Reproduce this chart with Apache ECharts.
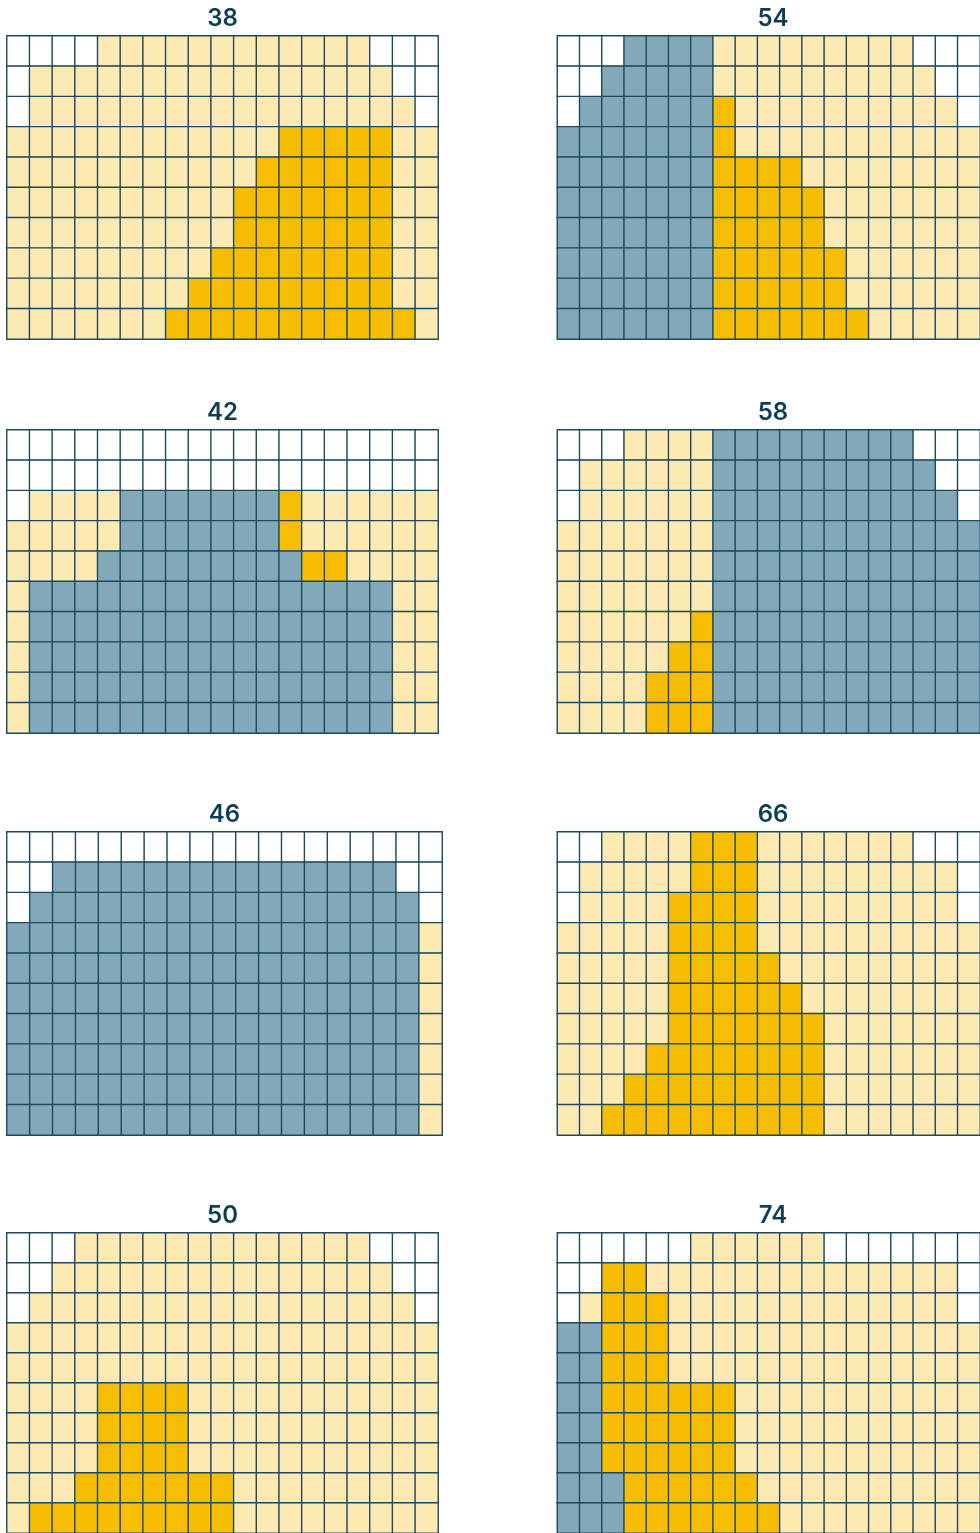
<!DOCTYPE html>
<html>
<head>
<meta charset="utf-8">
<script src="https://cdn.jsdelivr.net/npm/echarts@6/dist/echarts.min.js"></script>
<style>
  html, body { margin: 0; padding: 0; background: #fff; }
  #chart { width: 980px; height: 1533px; }
</style>
</head>
<body>
<div id="chart"></div>
<script>
// cell codes: 0 = empty, 1 = light, 2 = gold, 3 = blue
const panelTitles = ["38", "42", "46", "50", "54", "58", "66", "74"];
const columns = Array.from({ length: 19 }, (_, i) => String(i));
const rows = Array.from({ length: 10 }, (_, i) => String(i));

const panel38 = [
  "0000111111111111000",
  "0111111111111111100",
  "0111111111111111110",
  "1111111111112222211",
  "1111111111122222211",
  "1111111111222222211",
  "1111111111222222211",
  "1111111112222222211",
  "1111111122222222211",
  "1111111222222222221"
];
const panel42 = [
  "0000000000000000000",
  "0000000000000000000",
  "0111133333332111111",
  "1111133333332111111",
  "1111333333333221111",
  "1333333333333333311",
  "1333333333333333311",
  "1333333333333333311",
  "1333333333333333311",
  "1333333333333333311"
];
const panel46 = [
  "0000000000000000000",
  "0033333333333333300",
  "0333333333333333330",
  "3333333333333333331",
  "3333333333333333331",
  "3333333333333333331",
  "3333333333333333331",
  "3333333333333333331",
  "3333333333333333331",
  "3333333333333333331"
];
const panel50 = [
  "0001111111111111000",
  "0011111111111111100",
  "0111111111111111110",
  "1111111111111111111",
  "1111111111111111111",
  "1111222211111111111",
  "1111222211111111111",
  "1111222211111111111",
  "1112222222111111111",
  "1222222222111111111"
];
const panel54 = [
  "0003333111111111000",
  "0033333111111111100",
  "0333333211111111110",
  "3333333211111111111",
  "3333333222211111111",
  "3333333222221111111",
  "3333333222221111111",
  "3333333222222111111",
  "3333333222222111111",
  "3333333222222211111"
];
const panel58 = [
  "0001111333333333000",
  "0111111333333333300",
  "0111111333333333330",
  "1111111333333333333",
  "1111111333333333333",
  "1111111333333333333",
  "1111112333333333333",
  "1111122333333333333",
  "1111222333333333333",
  "1111222333333333333"
];
const panel66 = [
  "0011112221111111000",
  "0111112221111111110",
  "0111122221111111110",
  "1111122221111111111",
  "1111122222111111111",
  "1111122222211111111",
  "1111122222221111111",
  "1111222222221111111",
  "1112222222221111111",
  "1122222222221111111"
];
const panel74 = [
  "0000001111110000000",
  "0022111111111111110",
  "0122211111111111110",
  "3322211111111111111",
  "3322211111111111111",
  "3322222211111111111",
  "3322222211111111111",
  "3322222211111111111",
  "3332222221111111111",
  "3332222222111111111"
];
const panels = [panel38, panel42, panel46, panel50, panel54, panel58, panel66, panel74];

// panel placement (left column then right column)
const gridTops = [36, 430, 832, 1233];
const gridHeight = 303;
const leftX = [7, 557.5];
const gridWidths = [431, 431, 435, 431, 431, 431, 431, 431];

const chart = echarts.init(document.getElementById("chart"));

const grids = [], xAxes = [], yAxes = [], series = [], titles = [];
panels.forEach((panel, i) => {
  const col = Math.floor(i / 4);
  const row = i % 4;
  const left = leftX[col];
  const w = gridWidths[i];
  grids.push({ left: left, top: gridTops[row], width: w, height: gridHeight });
  xAxes.push({
    type: "category", gridIndex: i, data: columns,
    axisLine: { show: false }, axisTick: { show: false },
    axisLabel: { show: false }, splitLine: { show: false }
  });
  yAxes.push({
    type: "category", gridIndex: i, data: rows, inverse: true,
    axisLine: { show: false }, axisTick: { show: false },
    axisLabel: { show: false }, splitLine: { show: false }
  });
  const data = [];
  panel.forEach((line, r) => {
    line.split("").forEach((ch, c) => data.push([c, r, Number(ch)]));
  });
  series.push({
    type: "heatmap", xAxisIndex: i, yAxisIndex: i, data: data,
    itemStyle: { borderColor: "#1c4a5f", borderWidth: 1.4 },
    emphasis: { disabled: true }
  });
  titles.push({
    text: panelTitles[i],
    left: left + w / 2, top: gridTops[row] - 29,
    textAlign: "center",
    padding: 0,
    textStyle: {
      fontFamily: "Inter, 'Liberation Sans', sans-serif",
      fontSize: 24, fontWeight: 600, color: "#0e3d56"
    }
  });
});

chart.setOption({
  animation: false,
  title: titles,
  grid: grids,
  xAxis: xAxes,
  yAxis: yAxes,
  visualMap: {
    type: "piecewise", show: false, dimension: 2,
    seriesIndex: series.map((_, i) => i),
    pieces: [
      { value: 0, color: "#ffffff" },
      { value: 1, color: "#fde9b2" },
      { value: 2, color: "#f6bd02" },
      { value: 3, color: "#82a8b9" }
    ]
  },
  series: series
});
</script>
</body>
</html>
